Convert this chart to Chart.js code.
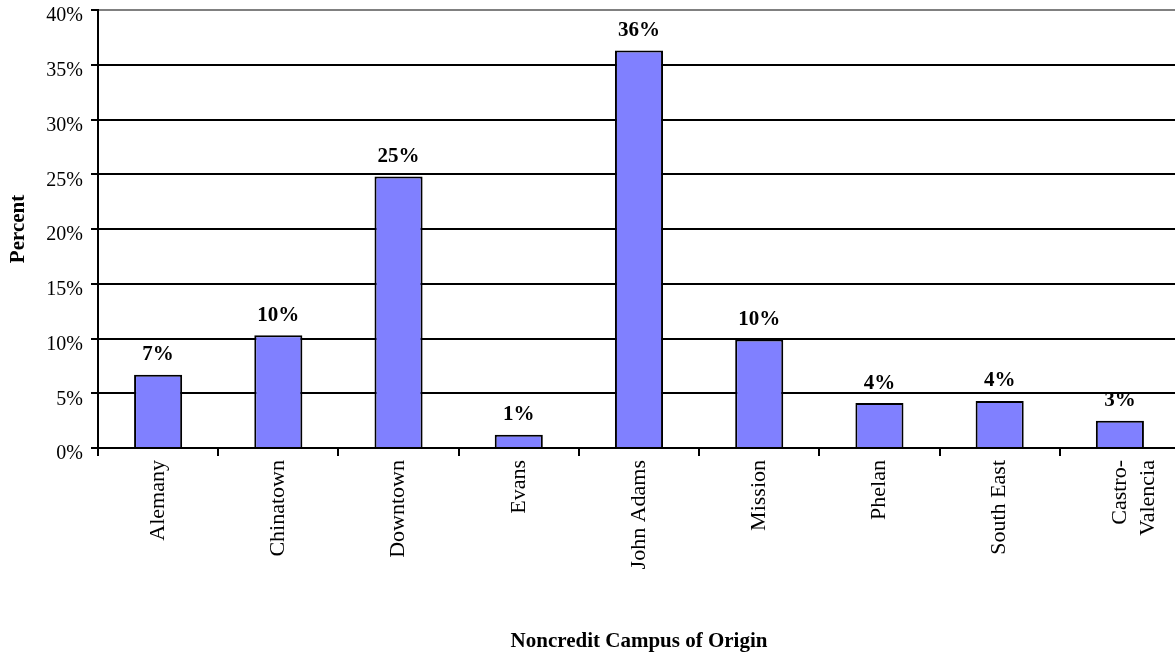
<!DOCTYPE html>
<html>
<head>
<meta charset="utf-8">
<script src="https://cdn.jsdelivr.net/npm/chart.js@4/dist/chart.umd.min.js"></script>
<style>
  html, body { margin: 0; padding: 0; background: #fff; overflow: hidden; }
  #wrap { width: 1182px; height: 653px; position: relative; }
</style>
</head>
<body>
<div id="wrap"><canvas id="campusChart"></canvas></div>
<script>
// campus names and share of students (percent)
const campuses = ['Alemany', 'Chinatown', 'Downtown', 'Evans', 'John Adams', 'Mission', 'Phelan', 'South East', ['Castro-', 'Valencia']];
const percents = [6.7, 10.3, 24.8, 1.2, 36.3, 9.9, 4.1, 4.3, 2.5];
const yTicks = [0, 5, 10, 15, 20, 25, 30, 35, 40];

const serif = '"Liberation Serif", "Times New Roman", serif';

// value labels above each bar
const barLabels = {
    id: 'barLabels',
    afterDatasetsDraw(chart) {
        const ctx = chart.ctx;
        const meta = chart.getDatasetMeta(0);
        ctx.save();
        ctx.font = 'bold 21px ' + serif;
        ctx.fillStyle = '#000';
        ctx.textAlign = 'center';
        ctx.textBaseline = 'middle';
        meta.data.forEach((bar, i) => {
            ctx.fillText(Math.round(percents[i]) + '%', bar.x, bar.y - 20);
        });
        ctx.restore();
    }
};

const bgFill = {
    id: 'bgFill',
    beforeDraw(chart) {
        const ctx = chart.ctx;
        ctx.save();
        ctx.fillStyle = '#fff';
        ctx.fillRect(0, 0, chart.width, chart.height);
        ctx.restore();
    }
};

new Chart(document.getElementById('campusChart'), {
    type: 'bar',
    data: {
        labels: campuses,
        datasets: [{
            data: percents,
            backgroundColor: '#8080FF',
            borderColor: '#000',
            borderWidth: 2,
            barPercentage: 0.4,
            categoryPercentage: 1
        }]
    },
    options: {
        responsive: true,
        maintainAspectRatio: false,
        animation: false,
        layout: { padding: { top: 10, right: 2, left: 0, bottom: 0 } },
        plugins: {
            legend: { display: false },
            tooltip: { enabled: false }
        },
        scales: {
            x: {
                offset: true,
                afterFit(scale) { scale.height = 205; },
                grid: {
                    offset: true,
                    drawOnChartArea: false,
                    drawTicks: true,
                    tickLength: 8,
                    color: '#000',
                    lineWidth: 2
                },
                border: { display: true, color: '#000', width: 2 },
                ticks: {
                    autoSkip: false,
                    minRotation: 90,
                    maxRotation: 90,
                    padding: 4,
                    color: '#000',
                    font: { family: serif, size: 22, lineHeight: 1.28 }
                },
                title: {
                    display: true,
                    text: 'Noncredit Campus of Origin',
                    color: '#000',
                    padding: { top: 0, bottom: 0 },
                    font: { family: serif, size: 21, weight: 'bold', lineHeight: 1.1 }
                }
            },
            y: {
                min: 0,
                max: 40,
                afterFit(scale) {
                    scale.width = 98;
                    scale.paddingTop = 0;
                    scale.paddingBottom = 0;
                },
                afterBuildTicks(scale) { scale.ticks = yTicks.map(v => ({ value: v })); },
                grid: {
                    color: c => (c.tick && c.tick.value === 40 ? '#808080' : '#000'),
                    tickColor: '#000',
                    lineWidth: 2,
                    tickLength: 7
                },
                border: { display: true, color: '#000', width: 2 },
                ticks: {
                    padding: 8,
                    labelOffset: 6,
                    color: '#000',
                    font: { family: serif, size: 20, lineHeight: 1.0 },
                    callback: v => v + '%'
                },
                title: {
                    display: true,
                    text: 'Percent',
                    color: '#000',
                    padding: { top: 6, bottom: 0 },
                    font: { family: serif, size: 21, weight: 'bold', lineHeight: 1.2 }
                }
            }
        }
    },
    plugins: [bgFill, barLabels]
});
</script>
</body>
</html>
